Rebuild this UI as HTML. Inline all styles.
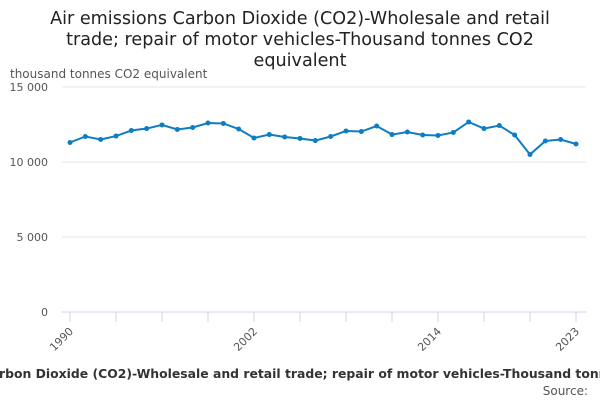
<!DOCTYPE html>
<html><head><meta charset="utf-8"><style>
body{margin:0;background:#fff;font-family:"DejaVu Sans","Liberation Sans",sans-serif;}
svg{display:block}
</style></head><body>
<svg width="600" height="400" id="c">
<text x="300" y="24" text-anchor="middle" font-size="17.6" fill="#222">Air emissions Carbon Dioxide (CO2)-Wholesale and retail</text>
<text x="300" y="45" text-anchor="middle" font-size="17.6" fill="#222">trade; repair of motor vehicles-Thousand tonnes CO2</text>
<text x="300" y="66" text-anchor="middle" font-size="17.6" fill="#222">equivalent</text>
<text x="10" y="78" font-size="12" fill="#555">thousand tonnes CO2 equivalent</text>
<text x="309" y="378" text-anchor="middle" font-size="12.4" font-weight="bold" fill="#333">Air emissions Carbon Dioxide (CO2)-Wholesale and retail trade; repair of motor vehicles-Thousand tonnes CO2 equivalent</text>
<text x="588" y="395" text-anchor="end" font-size="12" fill="#555">Source:</text>
<g id="grid"></g><g id="axes"></g><g id="plot"></g>
</svg>
<script>
const years=[1990,1991,1992,1993,1994,1995,1996,1997,1998,1999,2000,2001,2002,2003,2004,2005,2006,2007,2008,2009,2010,2011,2012,2013,2014,2015,2016,2017,2018,2019,2020,2021,2022,2023];
const values=[11300,11700,11500,11730,12100,12230,12470,12170,12300,12600,12570,12200,11600,11830,11670,11570,11430,11700,12070,12030,12400,11830,12000,11800,11770,11970,12670,12230,12430,11800,10500,11400,11500,11200];
const yTicks=[0,5000,10000,15000];
const yTickLabels=["0","5 000","10 000","15 000"];
const xLabels=[1990,2002,2014,2023];
const NS="http://www.w3.org/2000/svg";
const x=v=>70+(v-1990)*(506/33);
const y=v=>312-v*0.015;
function mk(t,a,p){const e=document.createElementNS(NS,t);for(const k in a)e.setAttribute(k,a[k]);p.appendChild(e);return e;}
const g=document.getElementById('grid'),ax=document.getElementById('axes'),pl=document.getElementById('plot');
yTicks.forEach((t,i)=>{
 const l=mk('line',{x1:62,x2:586,y1:y(t),y2:y(t),stroke:t===0?'#ccd6eb':'#e6e6e6','stroke-width':1},g);
 
 
 const tx=mk('text',{x:48,y:y(t)+4,'text-anchor':'end','font-size':11,fill:'#555'},ax);
 tx.textContent=yTickLabels[i];
 
 
});
const tickYears=[];for(let yr=1990;yr<=2020;yr+=3)tickYears.push(yr);tickYears.push(2023);
tickYears.forEach(yr=>{
 const l=mk('line',{x1:x(yr),x2:x(yr),y1:312,y2:322,stroke:'#ccd6eb'},ax);
 
 
});
xLabels.forEach(yr=>{
 const tx=mk('text',{x:x(yr)+4,y:332,'text-anchor':'end','font-size':11,fill:'#555',transform:`rotate(-45 ${x(yr)+4} 332)`},ax);
 tx.textContent=yr;
 
 
});
const line=mk('polyline',{points:years.map((yr,i)=>x(yr)+','+y(values[i])).join(' '),fill:'none',stroke:'#0e7dc2','stroke-width':2},pl);


years.forEach((yr,i)=>{
 const c=mk('circle',{cx:x(yr),cy:y(values[i]),r:2.5,fill:'#0e7dc2'},pl);
 
 
});
</script>
</body></html>
